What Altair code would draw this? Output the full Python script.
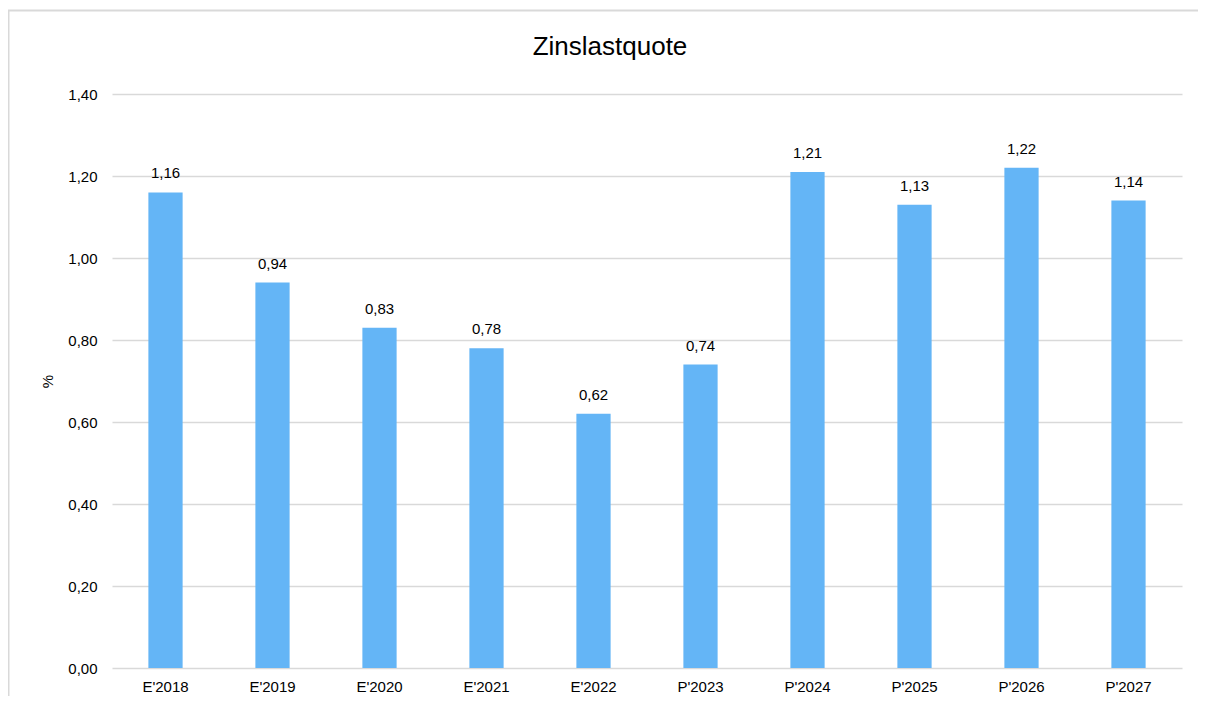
import altair as alt
import pandas as pd

categories = ["E'2018", "E'2019", "E'2020", "E'2021", "E'2022",
              "P'2023", "P'2024", "P'2025", "P'2026", "P'2027"]
values = [1.16, 0.94, 0.83, 0.78, 0.62, 0.74, 1.21, 1.13, 1.22, 1.14]
y_ticks = [0.0, 0.2, 0.4, 0.6, 0.8, 1.0, 1.2, 1.4]
chart_title = ["Zinslastquote"]

df = pd.DataFrame({"cat": categories, "val": values})
one_df = pd.DataFrame({"t": chart_title})

FONT = "Liberation Sans"
W, H = 1070, 574

x_enc = alt.X("cat:N", sort=categories, title=None,
              scale=alt.Scale(paddingInner=0.68, paddingOuter=0.34),
              axis=alt.Axis(labelAngle=0, labelFontSize=15, labelFont=FONT,
                            labelColor="black", labelPadding=11, ticks=False,
                            domain=False, grid=False))
y_enc = alt.Y("val:Q", title="%",
              scale=alt.Scale(domain=[0, 1.4], nice=False),
              axis=alt.Axis(values=y_ticks,
                            labelExpr="replace(format(datum.value, '.2f'), '.', ',')",
                            labelFontSize=15, labelFont=FONT, labelColor="black",
                            labelPadding=15, ticks=False, domain=False,
                            grid=True, gridColor="#d9d9d9", gridWidth=1.5,
                            titleFont=FONT, titleFontSize=15, titleFontWeight="normal",
                            titleColor="black", titlePadding=12))

frame = alt.Chart(one_df).mark_rect(
    fill=None, stroke="#d9d9d9", strokeWidth=2, clip=False
).encode(x=alt.value(-103.5), x2=alt.value(1300), y=alt.value(-83.5), y2=alt.value(900))

title = alt.Chart(one_df).mark_text(
    font=FONT, fontSize=26, color="black", baseline="alphabetic", align="center", clip=False
).encode(x=alt.value(498), y=alt.value(-39), text="t:N")

bars = alt.Chart(df).mark_bar(color="#64B5F6").encode(x=x_enc, y=y_enc)

labels = alt.Chart(df).transform_calculate(
    lbl="replace(format(datum.val, '.2f'), '.', ',')"
).mark_text(font=FONT, fontSize=15, color="black", baseline="alphabetic", dy=-14).encode(
    x=alt.X("cat:N", sort=categories), y="val:Q", text="lbl:N")

chart = alt.layer(frame, title, bars, labels).properties(
    width=W, height=H,
    autosize=alt.AutoSizeParams(type="none"),
    padding={"left": 104, "top": 86, "right": 16, "bottom": 28},
).configure(background="white").configure_view(stroke=None)

chart.save("out.html", embed_options={"renderer": "svg", "actions": False})
